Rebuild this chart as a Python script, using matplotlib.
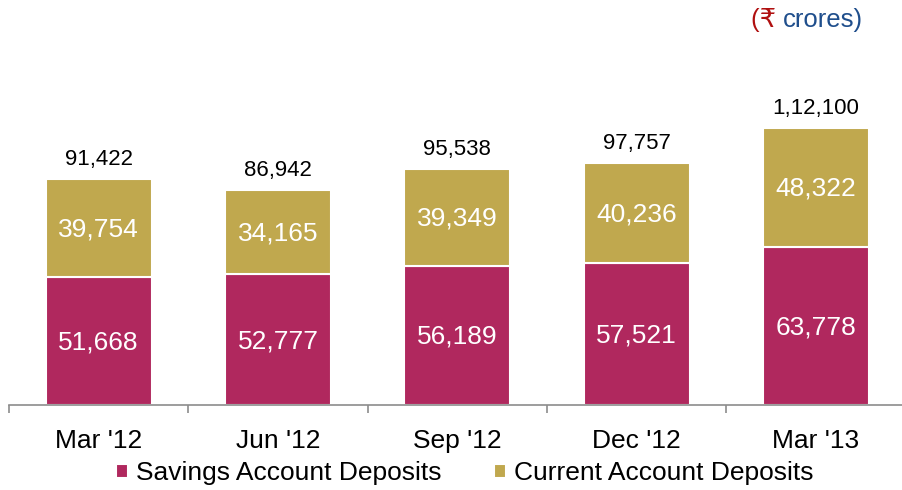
import matplotlib.pyplot as plt
import numpy as np

plt.rcParams['font.family'] = ['Liberation Sans', 'DejaVu Sans']

# data
quarters = ["Mar '12", "Jun '12", "Sep '12", "Dec '12", "Mar '13"]
savings = [51668, 52777, 56189, 57521, 63778]
current = [39754, 34165, 39349, 40236, 48322]
totals = [91422, 86942, 95538, 97757, 112100]
total_labels = ["91,422", "86,942", "95,538", "97,757", "1,12,100"]

sav_col = "#B0285E"
cur_col = "#C0A84E"

fig = plt.figure(figsize=(9.02, 4.90), dpi=100)
ax = fig.add_axes([0.01, 0.1735, 0.994, 0.702])

x = np.arange(len(quarters))
w = 0.59
ax.bar(x, savings, w, color=sav_col, edgecolor="white", linewidth=1.5,
       label="Savings Account Deposits")
ax.bar(x, current, w, bottom=savings, color=cur_col, edgecolor="white",
       linewidth=1.5, label="Current Account Deposits")

# labels inside the segments + totals on top
for i in range(len(quarters)):
    ax.text(x[i], savings[i] / 2 - 600, f"{savings[i]:,}", ha="center", va="center",
            color="white", fontsize=19)
    ax.text(x[i], savings[i] + current[i] / 2 - 600, f"{current[i]:,}", ha="center",
            va="center", color="white", fontsize=19)
    ax.annotate(total_labels[i], (x[i], totals[i]), xytext=(0, 6.5),
                textcoords="offset points", ha="center", va="bottom",
                fontsize=16, color="black")

ax.set_xlim(-0.5, 4.5)
ax.set_ylim(0, 139000)
ax.set_yticks([])
for s in ["top", "right", "left"]:
    ax.spines[s].set_visible(False)
ax.spines["bottom"].set_color("#8c8c8c")
ax.spines["bottom"].set_linewidth(1.2)

ax.set_xticks(x)
ax.set_xticklabels(quarters, fontsize=19)
ax.tick_params(axis="x", which="major", length=0, pad=17)
ax.set_xticks(np.arange(-0.5, 5, 1), minor=True)
ax.tick_params(axis="x", which="minor", length=6, color="#8c8c8c", width=1.2)

ax.legend(loc="center", bbox_to_anchor=(0.515, 0.034), bbox_transform=fig.transFigure,
          ncol=2, frameon=False, fontsize=19, handlelength=0.45, handleheight=0.45,
          handletextpad=0.3, columnspacing=2.0, borderpad=0)

# unit note
t = fig.text(0.957, 0.959, "crores)", ha="right", va="center", fontsize=18.5,
             color="#1F4E8C")
ax.annotate("(\u20b9 ", xy=(0, 0.5), xycoords=t, ha="right", va="center",
            fontsize=18.5, color="#B01010", annotation_clip=False)

fig.savefig("out.png", dpi=100)
